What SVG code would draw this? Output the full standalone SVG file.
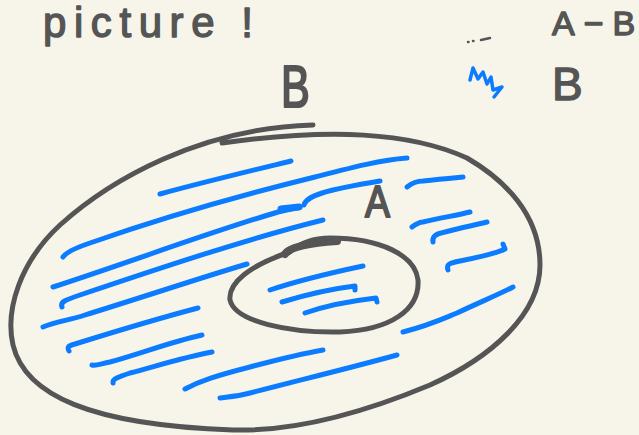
<svg xmlns="http://www.w3.org/2000/svg" width="639" height="435" viewBox="0 0 639 435">
<style>
.ink{fill:none;stroke:#555555;stroke-width:5;stroke-linecap:round;stroke-linejoin:round}
.blue{fill:none;stroke:#0b7cff;stroke-width:5;stroke-linecap:round;stroke-linejoin:round}
.lbl{font-family:"Liberation Sans","DejaVu Sans",sans-serif;fill:#555555;stroke:#555555;stroke-width:1.4;stroke-linejoin:round}
</style>
<rect width="639" height="435" fill="#f7f5ea"/>
<text class="lbl" x="43" y="37" font-size="42" textLength="210" lengthAdjust="spacing">picture !</text>
<g id="legend">
  <g id="legend-a-minus-b">
    <path class="ink" style="stroke-width:2.5" d="M468,42 l0.5,0 M473,41 l0.5,0 M481,40 L490,38"/>
    <text class="lbl" x="552" y="35" font-size="34">A<tspan dx="9">−</tspan><tspan dx="9">B</tspan></text>
  </g>
  <g id="legend-b">
    <path class="blue" style="stroke-width:3.5" d="M470,80 L473,68 L478,79 L483,72 L487,84 L491,77 L493,90 L502,87 L494,97"/>
    <text class="lbl" x="552" y="100" font-size="46">B</text>
  </g>
</g>
<g id="set-B">
  <path class="ink" d="M313,125 C200,128 110,180 60,225 C20,262 5,310 13,345 C25,395 90,425 233,430 C300,432 370,410 430,385 C490,358 540,315 540,265 C540,215 505,180 467,158 C410,132 330,128 222,143"/>
  <text class="lbl" style="stroke-width:2.2" transform="translate(281,107) scale(0.72,1)" font-size="60">B</text>
  <g id="B-shading">
    <path class="blue" d="M160,194 C200,183 250,171 291,161"/>
    <path class="blue" d="M63,257 C66,252 75,248 90,243 C170,215 250,193 315,177 C350,168 380,160 407,158"/>
    <path class="blue" d="M53,287 C130,262 210,232 278,212 L300,207"/>
    <path class="blue" style="stroke-width:7" d="M281,209 L299,207"/>
    <path class="blue" d="M304,205 C306,196 325,190 380,181"/>
    <path class="blue" d="M62,307 C60,302 65,300 80,295 C160,268 250,238 323,220"/>
    <path class="blue" d="M43,327 C55,322 70,320 85,315 C140,298 200,278 247,264"/>
    <path class="blue" d="M69,351 C67,347 68,346 75,344 C120,330 160,318 198,308"/>
    <path class="blue" d="M92,365 C96,366 100,364 110,362 C140,354 170,342 202,335"/>
    <path class="blue" d="M113,383 C112,379 118,377 130,373 C160,365 185,357 212,352"/>
    <path class="blue" d="M185,389 C200,381 215,376 250,367 C280,359 300,354 323,350"/>
    <path class="blue" d="M220,398 C225,397 235,397 250,393 C300,380 350,368 397,355"/>
    <path class="blue" d="M403,332 C430,325 440,320 457,313 C480,302 500,294 513,287"/>
    <path class="blue" d="M407,187 C412,183 416,181 423,181 C440,179 452,178 463,177"/>
    <path class="blue" d="M412,227 C416,224 419,222 423,222 C440,218 458,215 470,212"/>
    <path class="blue" d="M433,242 C432,236 436,234 445,232 C460,228 475,225 487,222"/>
    <path class="blue" d="M448,270 C446,264 450,263 460,261 C480,257 495,254 505,249 L503,244"/>
  </g>
</g>
<g id="set-A">
  <path class="ink" d="M290,252 C250,265 228,283 230,300 C235,322 290,333 340,332 C390,330 420,310 418,280 C415,255 380,238 330,238 C315,238 300,243 290,252 Z"/>
  <path class="ink" style="stroke-width:8" d="M285,254 C290,247 310,243 337,241"/>
  <text class="lbl" style="stroke-width:2" x="365" y="217" font-size="44" transform="translate(365,217) scale(0.85,1) translate(-365,-217)">A</text>
  <g id="A-shading">
    <path class="blue" d="M270,290 C300,280 330,273 363,266"/>
    <path class="blue" d="M282,302 C305,295 330,289 355,286 L355,290"/>
    <path class="blue" d="M305,313 C325,306 350,301 376,298 L377,302"/>
  </g>
</g>
<g id="connectors"/>
</svg>
